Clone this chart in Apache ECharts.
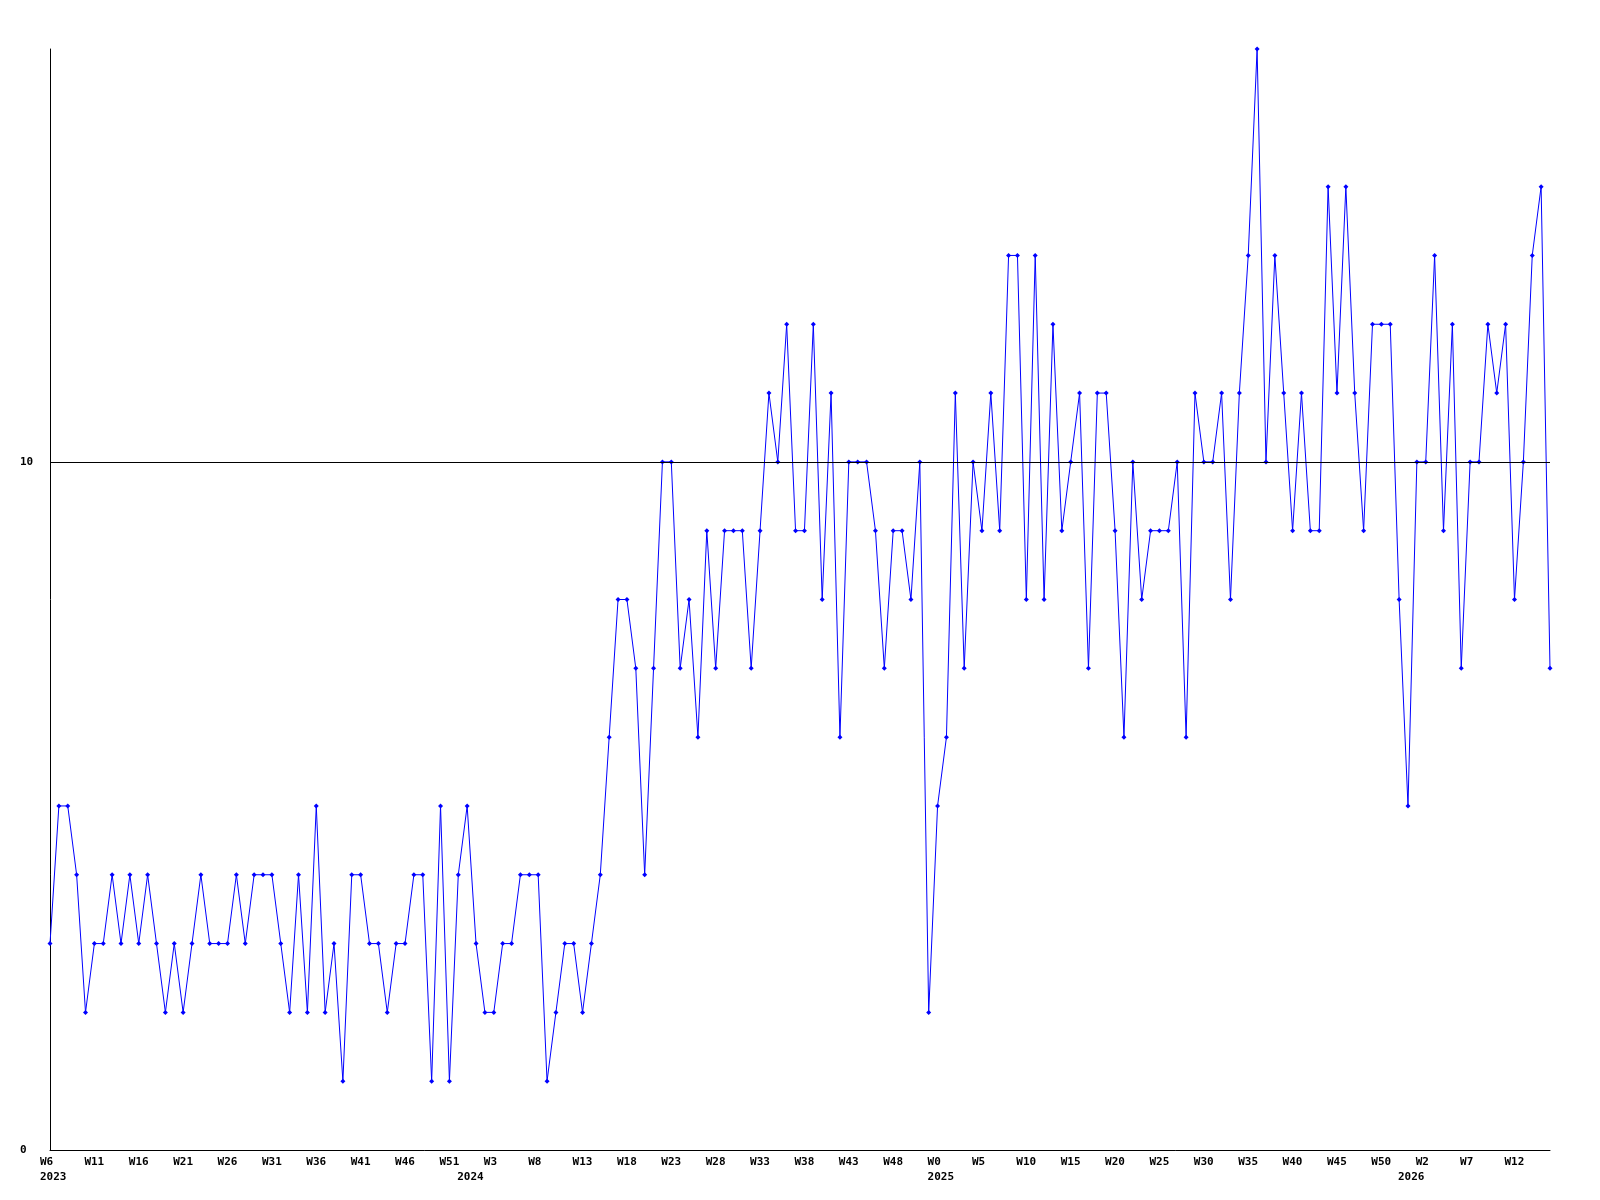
<!DOCTYPE html>
<html>
<head>
<meta charset="utf-8">
<script src="https://cdn.jsdelivr.net/npm/echarts@6/dist/echarts.min.js"></script>
<style>
html,body{margin:0;padding:0;background:#fff;}
#chart{width:1600px;height:1200px;}
</style>
</head>
<body>
<div id="chart"></div>
<script>
// Week ranges per year: [year, firstWeek, lastWeek]
const weekRanges = [[2023, 6, 52], [2024, 0, 52], [2025, 0, 52], [2026, 0, 16]];

// Weekly values
const values2023 = [3,5,5,4,2,3,3,4,3,4,3,4,3,2,3,2,3,4,3,3,3,4,3,4,4,4,3,2,4,2,5,2,3,1,4,4,3,3,2,3,3,4,4,1,5,1,4];
const values2024 = [5,3,2,2,3,3,4,4,4,1,2,3,3,2,3,4,6,8,8,7,4,7,10,10,7,8,6,9,7,9,9,9,7,9,11,10,12,9,9,12,8,11,6,10,10,10,9,7,9,9,8,10,2];
const values2025 = [5,6,11,7,10,9,11,9,13,13,8,13,8,12,9,10,11,7,11,11,9,6,10,8,9,9,9,10,6,11,10,10,11,8,11,13,16,10,13,11,9,11,9,9,14,11,14,11,9,12,12,12,8];
const values2026 = [5,10,10,13,9,12,7,10,10,12,11,12,8,10,13,14,7];

const yTickLabels = [0, 10];
const refLine = 10;

const categories = [];
const weekOf = [];
const yearOf = [];
weekRanges.forEach(([y, a, b]) => {
  for (let w = a; w <= b; w++) {
    categories.push(y + '-W' + w);
    weekOf.push(w);
    yearOf.push(y);
  }
});
const values = values2023.concat(values2024, values2025, values2026);

const isYearStart = i => i === 0 || weekOf[i] === 0;

const font = '"DejaVu Sans Mono", "Liberation Mono", monospace';
const lblBase = {
  fontFamily: font, fontSize: 11, fontWeight: 'bold', color: '#000', lineHeight: 11
};

const chart = echarts.init(document.getElementById('chart'), null, {renderer: 'canvas'});
chart.setOption({
  animation: false,
  backgroundColor: '#fff',
  grid: {left: 50, right: 50, top: 49, bottom: 50, containLabel: false},
  xAxis: [{
    type: 'category',
    data: categories,
    boundaryGap: false,
    axisLine: {show: true, lineStyle: {color: '#000', width: 1}},
    axisTick: {show: false},
    splitLine: {show: false},
    axisLabel: Object.assign({}, lblBase, {
      margin: 7,
      align: 'center',
      interval: (i) => i % 5 === 0,
      formatter: (v, i) => '{a|W' + weekOf[i] + '}',
      rich: {a: Object.assign({}, lblBase, {width: 20, align: 'left'})}
    })
  }, {
    type: 'category',
    data: categories,
    boundaryGap: false,
    position: 'bottom',
    axisLine: {show: false},
    axisTick: {show: false},
    splitLine: {show: false},
    axisLabel: Object.assign({}, lblBase, {
      margin: 22,
      align: 'center',
      interval: (i) => isYearStart(i),
      formatter: (v, i) => '{a|' + yearOf[i] + '}',
      rich: {a: Object.assign({}, lblBase, {width: 20, align: 'left'})}
    })
  }],
  yAxis: {
    type: 'value',
    min: 0,
    max: 16,
    interval: 10,
    axisLine: {show: true, lineStyle: {color: '#000', width: 1}},
    axisTick: {show: false},
    splitLine: {show: false},
    axisLabel: Object.assign({}, lblBase, {
      margin: 30,
      align: 'left',
      showMaxLabel: false,
      formatter: v => (yTickLabels.indexOf(v) >= 0 ? String(v) : '')
    })
  },
  series: [{
    type: 'line',
    data: values,
    xAxisIndex: 0,
    symbol: 'diamond',
    symbolSize: 5,
    showSymbol: true,
    itemStyle: {color: '#0000ff'},
    lineStyle: {color: '#0000ff', width: 1},
    emphasis: {disabled: true},
    markLine: {
      silent: true,
      symbol: ['none', 'none'],
      label: {show: false},
      lineStyle: {color: '#000', width: 1, type: 'solid'},
      data: [{yAxis: refLine}]
    },
    z: 3
  }]
});
</script>
</body>
</html>
